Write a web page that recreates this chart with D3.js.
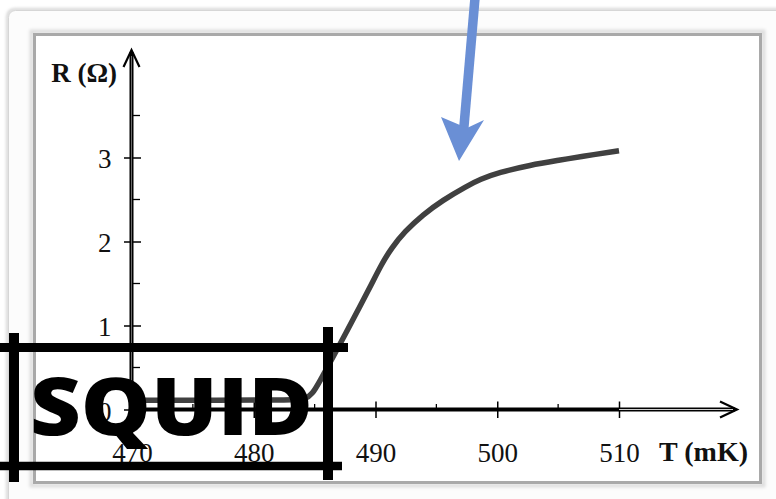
<!DOCTYPE html>
<html>
<head>
<meta charset="utf-8">
<script src="https://cdn.jsdelivr.net/npm/d3@7"></script>
<style>
  html, body { margin: 0; padding: 0; background: #ffffff; }
  svg { display: block; }
</style>
</head>
<body>
<div id="chart"></div>
<script>
// ---- data ----
const temperatureMK = [470, 477, 483.4, 484.2, 484.8, 485.4, 486.5, 487.6, 488.7, 489.7, 490.5, 491.3, 492.4, 493.9, 495.5, 497.5, 498.6, 500.1, 502.7, 505.2, 506.8, 510];
const resistanceOhm = [0.11, 0.11, 0.112, 0.12, 0.18, 0.33, 0.62, 0.92, 1.22, 1.50, 1.73, 1.92, 2.12, 2.32, 2.49, 2.66, 2.74, 2.82, 2.91, 2.97, 3.01, 3.08];
const xMajorTicks = [470, 480, 490, 500, 510];
const xMinorTicks = [475, 485, 495, 505];
const yMajorTicks = [0, 1, 2, 3];
const yMinorTicks = [0.5, 1.5, 2.5, 3.5];
const xAxisTitle = "T (mK)";
const yAxisTitle = "R (Ω)";
const overlayLabel = "SQUID";

const W = 776, H = 499;
const svg = d3.select("#chart").append("svg").attr("width", W).attr("height", H);

// ---- frame ----
const defs = svg.append("defs");
const sh = defs.append("filter").attr("id", "soft").attr("x", "-5%").attr("y", "-5%").attr("width", "110%").attr("height", "110%");
sh.append("feGaussianBlur").attr("stdDeviation", 1.5);

svg.append("rect").attr("x", 7.5).attr("y", 9.5).attr("width", 820).attr("height", 540).attr("rx", 7)
  .attr("fill", "#fbfbfb").attr("stroke", "#c4c4c4").attr("stroke-width", 2).attr("filter", "url(#soft)");
svg.append("rect").attr("x", 8.5).attr("y", 10.5).attr("width", 820).attr("height", 540).attr("rx", 7)
  .attr("fill", "#fcfcfc").attr("stroke", "#d6d6d6").attr("stroke-width", 1);
svg.append("rect").attr("x", 31.5).attr("y", 31.5).attr("width", 732).attr("height", 454)
  .attr("fill", "none").attr("stroke", "#dedede").attr("stroke-width", 4).attr("filter", "url(#soft)");
svg.append("rect").attr("x", 34.5).attr("y", 34.5).attr("width", 726).attr("height", 448)
  .attr("fill", "#ffffff").attr("stroke", "#a9a9a9").attr("stroke-width", 3);

// ---- scales ----
const x = d3.scaleLinear().domain([470, 510]).range([132, 619]);
const y = d3.scaleLinear().domain([0, 3]).range([409.5, 157.5]);

const serif = "'Liberation Serif', 'Times New Roman', serif";

// ---- y axis ----
const yAxisX = 131.5;
const yAxis = d3.axisLeft(y).tickValues(yMajorTicks).tickSize(0).tickPadding(0).tickFormat(d3.format("d"));
const gy = svg.append("g").attr("transform", `translate(${yAxisX},0)`).call(yAxis);
gy.select(".domain").remove();
gy.selectAll(".tick text").attr("x", -20).attr("dy", "0.36em")
  .style("font-family", serif).style("font-size", "27px").attr("fill", "#111");
gy.selectAll(".tick").filter(d => d === 0).select("text").attr("dy", "0.42em");
gy.selectAll(".tick").append("line").attr("x1", -7.5).attr("x2", d => d === 0 ? 0 : 9.5)
  .attr("stroke", "#000").attr("stroke-width", 1.5);
gy.selectAll(".minor").data(yMinorTicks).enter().append("line")
  .attr("x1", 0).attr("x2", 8.5).attr("y1", d => y(d)).attr("y2", d => y(d))
  .attr("stroke", "#000").attr("stroke-width", 1.3);

// ---- x axis ----
const xAxisY = 409.5;
const xAxis = d3.axisBottom(x).tickValues(xMajorTicks).tickSize(0).tickPadding(0).tickFormat(d3.format("d"));
const gx = svg.append("g").attr("transform", `translate(0,${xAxisY})`).call(xAxis);
gx.select(".domain").remove();
gx.selectAll(".tick text").attr("y", 52).attr("dy", 0)
  .style("font-family", serif).style("font-size", "27px").attr("fill", "#111");
gx.selectAll(".tick").filter(d => d !== 470).append("line").attr("y1", -8).attr("y2", 8.5)
  .attr("stroke", "#000").attr("stroke-width", 1.5);
gx.selectAll(".minor").data(xMinorTicks).enter().append("line")
  .attr("x1", d => x(d)).attr("x2", d => x(d)).attr("y1", -5.5).attr("y2", 0)
  .attr("stroke", "#000").attr("stroke-width", 1.3);

// axis shafts
svg.append("line").attr("x1", x(470) - 1).attr("x2", 735).attr("y1", xAxisY).attr("y2", xAxisY)
  .attr("stroke", "#000").attr("stroke-width", 4);
svg.append("line").attr("x1", x(510)).attr("x2", 733).attr("y1", xAxisY).attr("y2", xAxisY)
  .attr("stroke", "#cfcfcf").attr("stroke-width", 1);
svg.append("line").attr("x1", yAxisX).attr("x2", yAxisX).attr("y1", xAxisY + 1).attr("y2", 52)
  .attr("stroke", "#000").attr("stroke-width", 4);
svg.append("line").attr("x1", yAxisX).attr("x2", yAxisX).attr("y1", xAxisY - 3).attr("y2", 56)
  .attr("stroke", "#6a6a6a").attr("stroke-width", 1);
// arrow heads (open)
svg.append("path").attr("d", `M720,401.5 L737,409.5 L720,417.5`).attr("fill", "none")
  .attr("stroke", "#000").attr("stroke-width", 2.2).attr("stroke-linejoin", "miter");
svg.append("path").attr("d", `M123.5,67 L131.5,50 L139.5,67`).attr("fill", "none")
  .attr("stroke", "#000").attr("stroke-width", 2.2).attr("stroke-linejoin", "miter");

// axis titles
svg.append("text").attr("x", 117).attr("y", 82).attr("text-anchor", "end")
  .style("font-family", serif).style("font-size", "27px").style("font-weight", "bold").attr("fill", "#111")
  .text(yAxisTitle);
svg.append("text").attr("x", 748).attr("y", 461).attr("text-anchor", "end")
  .style("font-family", serif).style("font-size", "28px").style("font-weight", "bold").attr("fill", "#111")
  .text(xAxisTitle);

// ---- curve ----
const line = d3.line().x((d, i) => x(temperatureMK[i])).y(d => y(d)).curve(d3.curveBasis);
svg.append("path").attr("d", line(resistanceOhm)).attr("fill", "none")
  .attr("stroke", "#404040").attr("stroke-width", 5.5).attr("stroke-linecap", "butt");

// ---- blue arrow ----
svg.append("line").attr("x1", 475).attr("y1", -2).attr("x2", 463.5).attr("y2", 132)
  .attr("stroke", "#6a8fd5").attr("stroke-width", 9.5);
svg.append("path").attr("d", "M441,117 L467,128 L484,120 L459,161 Z").attr("fill", "#6a8fd5");

// ---- SQUID overlay ----
const ov = svg.append("g");
const bar = (x1, y1, x2, y2, w) => ov.append("line").attr("x1", x1).attr("y1", y1).attr("x2", x2).attr("y2", y2)
  .attr("stroke", "#000").attr("stroke-width", w);
bar(14, 333, 14, 482, 10);
bar(328, 327, 328, 480, 10);
bar(0, 347.5, 348, 347.5, 9);
bar(0, 466, 342, 466, 8.5);
ov.append("text").attr("x", 30).attr("y", 435).attr("textLength", 283).attr("lengthAdjust", "spacingAndGlyphs")
  .style("font-family", "'Open Sans', 'Noto Sans', sans-serif").style("font-weight", 800).style("font-size", "79px")
  .attr("fill", "#000").text(overlayLabel);
</script>
</body>
</html>
